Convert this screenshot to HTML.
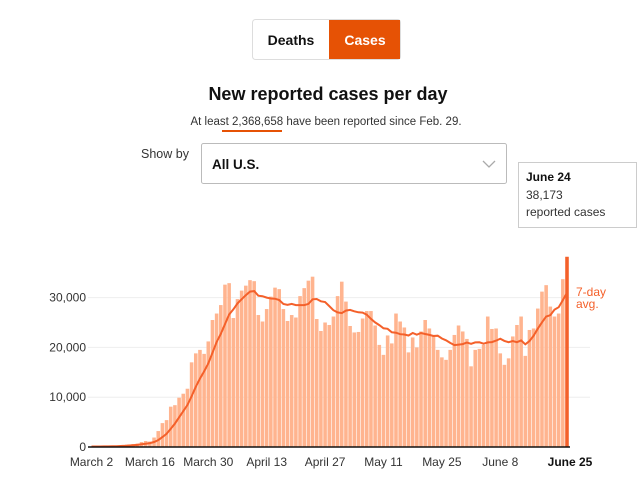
<!DOCTYPE html>
<html><head><meta charset="utf-8"><style>
body{margin:0;background:#fff;width:640px;height:486px;overflow:hidden;font-family:"Liberation Sans",sans-serif}
</style></head><body>
<svg width="640" height="486" style="position:absolute;left:0;top:0">
<g>
<rect x="252.5" y="19.5" width="148" height="40" rx="3" fill="#fff" stroke="#ddd"/>
<rect x="329" y="20" width="71" height="39" fill="#e65205"/>
<text x="291" y="45" text-anchor="middle" font-size="14" font-weight="bold" fill="#111">Deaths</text>
<text x="365" y="45" text-anchor="middle" font-size="14" font-weight="bold" fill="#fff">Cases</text>
</g>
<text x="328" y="100" text-anchor="middle" font-size="18" font-weight="bold" fill="#111">New reported cases per day</text>
<text x="326" y="125" text-anchor="middle" font-size="11.5" fill="#333">At least 2,368,658 have been reported since Feb. 29.</text>
<line x1="222" y1="131" x2="282" y2="131" stroke="#e65205" stroke-width="2"/>
<text x="141" y="158" font-size="12.5" fill="#333">Show by</text>
<g>
<rect x="201.5" y="143.5" width="305" height="40" rx="2" fill="#fff" stroke="#bbb"/>
<text x="212" y="169" font-size="13.5" font-weight="bold" fill="#111">All U.S.</text>
<polyline points="483,161 489,167 495,161" fill="none" stroke="#aaa" stroke-width="1.3"/>
</g>
<g>
<rect x="518.5" y="162.5" width="118" height="65" fill="#fff" stroke="#ccc"/>
<text x="526" y="181" font-size="12" font-weight="bold" fill="#111">June 24</text>
<text x="526" y="199" font-size="12" fill="#333">38,173</text>
<text x="526" y="216" font-size="12" fill="#333">reported cases</text>
</g>
<g id="grid"></g><g id="bars"></g><g id="avg"></g><g id="axes"></g>
</svg>
<script>
const values=[0.1,0.1,0.1,0.15,0.2,0.2,0.3,0.3,0.4,0.5,0.6,0.7,1.0,1.2,1.1,1.9,3.2,4.8,5.4,8.1,8.4,9.9,10.7,11.7,17,18.8,19.5,18.7,21.2,25.5,26.8,28.5,32.6,32.9,25.9,29.7,31.4,32.4,33.5,33.3,26.5,25.2,27.7,30.2,32,31.7,27.7,25.3,26.5,26,30.3,31.9,33.4,34.2,25.7,23.3,25,24.5,26.2,30.3,33.2,29.2,24.3,23,23.1,25.8,27.3,27.3,24.4,20.5,18.5,22.4,20.8,26.8,25.2,24,19,22,20,23.2,25.5,23.8,22.5,19.5,18,17.5,19.5,22.5,24.4,23.2,21.7,16.2,19.5,19.7,20.5,26.2,23.7,23.8,18.8,16.5,17.8,22.2,24.5,26.2,18.3,23.5,23.8,27.8,31.2,32.5,28.2,26.2,26.8,33.7,38.2];
const yTicks=[0,10000,20000,30000];
const yTickLabels=["0","10,000","20,000","30,000"];
const xTickIdx=[0,14,28,42,56,70,84,98,114];
const xTickLabels=["March 2","March 16","March 30","April 13","April 27","May 11","May 25","June 8","June 25"];
const NS="http://www.w3.org/2000/svg";
const x0=91.5,x1=567,y0=447,pxPerK=4.98;
function xs(i){return x0+i*(x1-x0)/(values.length-1);}
function ys(v){return y0-v*pxPerK;}
function mk(t,a,p){const e=document.createElementNS(NS,t);for(const k in a)e.setAttribute(k,a[k]);p.appendChild(e);return e;}
const grid=document.getElementById('grid'),bars=document.getElementById('bars'),avg=document.getElementById('avg'),axes=document.getElementById('axes');
const bw=(x1-x0)/(values.length-1);
yTicks.forEach((t,j)=>{
 if(t>0){const l=mk('line',{x1:88,x2:590,y1:ys(t/1000),y2:ys(t/1000),stroke:'#eee'},grid);
 
 }
 const tx=mk('text',{x:86,y:ys(t/1000)+4,'text-anchor':'end','font-size':12,fill:'#333'},axes);
 tx.textContent=yTickLabels[j];
 
 
});
values.forEach((v,i)=>{
 const last=i===values.length-1;
 const r=mk('rect',{x:xs(i)-bw/2+0.3,y:ys(v),width:bw-0.6,height:v*pxPerK,fill:last?'#f4602a':'#ffb48f'},bars);
 
 
});
let pts=[];
values.forEach((v,i)=>{const s=values.slice(Math.max(0,i-6),i+1);const m=s.reduce((a,b)=>a+b,0)/s.length;pts.push(xs(i).toFixed(1)+','+ys(m).toFixed(1));});
const pl=mk('polyline',{points:pts.join(' '),fill:'none',stroke:'#f4602a','stroke-width':2},avg);


const al=mk('line',{x1:88,x2:570,y1:447,y2:447,stroke:'#111','stroke-width':1.5},axes);


xTickIdx.forEach((i,j)=>{
 const last=j===xTickIdx.length-1;
 const t=mk('text',{x:xs(i)+(last?3:0),y:466,'text-anchor':'middle','font-size':12,fill:last?'#111':'#333','font-weight':last?'bold':'normal'},axes);
 t.textContent=xTickLabels[j];
 
 
});
const la=mk('text',{x:576,y:296,'font-size':12,fill:'#f4602a'},axes);la.textContent='7-day';


const lb=mk('text',{x:576,y:308,'font-size':12,fill:'#f4602a'},axes);lb.textContent='avg.';


</script>
</body></html>
